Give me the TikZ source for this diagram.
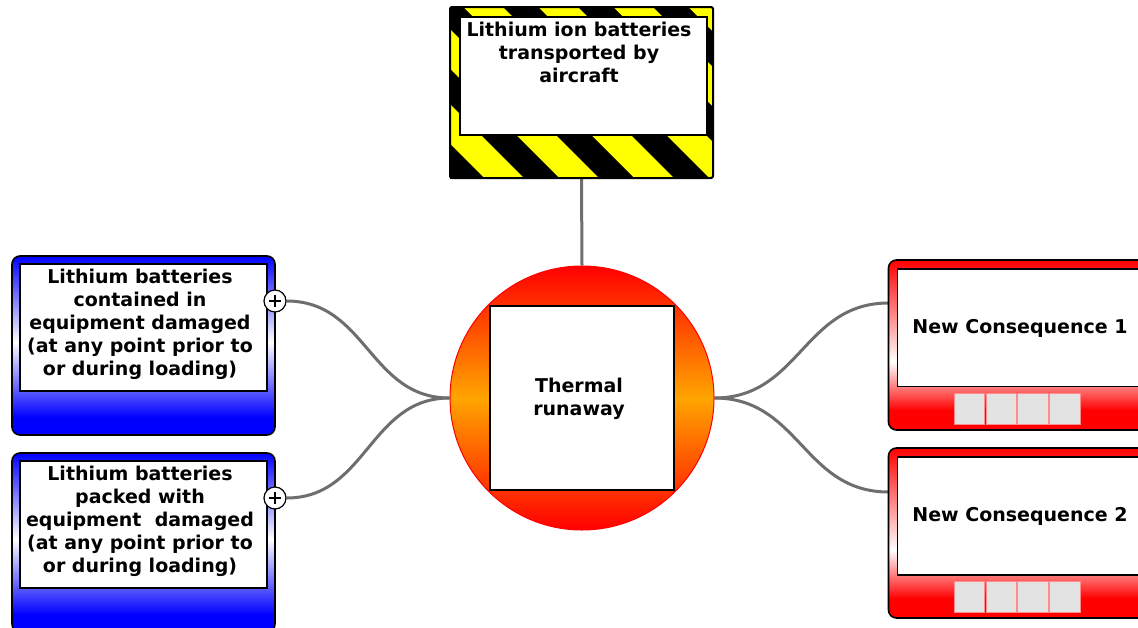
\documentclass[tikz,border=0pt]{standalone}
\usepackage{fontspec}
\setmainfont{DejaVu Sans}
\usetikzlibrary{calc}
\pgfdeclarelayer{bg}
\pgfsetlayers{bg,main}
\definecolor{linkgray}{HTML}{6E6E6E}
\definecolor{cellgray}{HTML}{E3E3E3}
\definecolor{cellborder}{HTML}{FF8C8C}
\definecolor{hazyellow}{HTML}{FFFF00}
\definecolor{midorange}{HTML}{FFA500}
% #1 x1, #2 y1 (top), #3 x2, #4 y2 (bottom), #5 colour, #6 offset of white, #7 offset of full colour
\newcommand{\gradpanel}[7]{%
  \begin{scope}
    \clip[rounded corners=8pt] (#1,#2) rectangle (#3,#4);
    \fill[top color=#5, bottom color=white] (#1,#2) rectangle (#3,#2+#6+0.5);
    \fill[top color=white, bottom color=#5] (#1,#2+#6) rectangle (#3,#2+#7+0.5);
    \fill[#5] (#1,#2+#7) rectangle (#3,#4);
  \end{scope}}
\begin{document}
\begin{tikzpicture}[x=1pt,y=-1pt,
  lbl/.style={font=\bfseries\fontsize{19}{23}\selectfont, align=center, inner sep=0pt, text=black},
  conn/.style={draw=linkgray, line width=3pt},
  panel/.style={draw=black, line width=1.6pt, rounded corners=8pt, inner sep=0pt},
  whitebox/.style={draw=black, line width=1.4pt, fill=white, inner sep=0pt},
  plusnode/.style={circle, draw=black, line width=1.2pt, fill=white, minimum size=22pt, inner sep=0pt},
  cell/.style={fill=cellgray, draw=cellborder, line width=0.6pt, minimum width=30.5pt, minimum height=30.5pt, inner sep=0pt}
]
\useasboundingbox (0,0) rectangle (1138,627);

% ---- hazard box (top) ----
\fill[hazyellow] (450,7) rectangle (713,178);
\begin{scope}
  \clip (450,7) rectangle (713,178);
  \foreach \k in {-4,...,3}{
    \pgfmathsetmacro{\ca}{496+75*\k}
    \pgfmathsetmacro{\cb}{\ca+35}
    \fill[black] (\ca,0) -- (\cb,0) -- (\cb+190,190) -- (\ca+190,190) -- cycle;
  }
\end{scope}
\node[draw=black, line width=2pt, rounded corners=2pt, minimum width=263pt, minimum height=171pt, inner sep=0pt] (hz) at (581.5,92.5) {};
\node[whitebox, minimum width=247pt, minimum height=118pt] (hzin) at (583.5,76) {};
\node[lbl] (hzt) at (579,52) {Lithium ion batteries\\transported by\\aircraft};

% ---- central circle ----
\node[circle, draw=red, line width=1pt, top color=red, bottom color=red, middle color=midorange, minimum size=264pt, inner sep=0pt] (circ) at (582,398) {};
\node[whitebox, minimum width=184pt, minimum height=184pt] (circin) at (582,398) {};
\node[lbl] (circt) at (579,399) {Thermal\\runaway};

% ---- left threat boxes ----
\gradpanel{12}{256}{275}{435}{blue}{86}{161}
\node[panel, minimum width=263pt, minimum height=179pt] (c1) at (143.5,345.5) {};
\node[whitebox, minimum width=247pt, minimum height=127pt] (c1in) at (143.5,327.5) {};
\node[lbl] (c1t) at (140,324.5) {Lithium batteries\\contained in\\equipment damaged\\(at any point prior to\\or during loading)};
\node[plusnode] (p1) at (275,301) {};
\draw[line width=1.2pt] ($(p1)+(-6,0)$) -- ($(p1)+(6,0)$) ($(p1)+(0,-6)$) -- ($(p1)+(0,6)$);

\gradpanel{12}{453}{275}{632}{blue}{86}{161}
\node[panel, minimum width=263pt, minimum height=179pt] (c2) at (143.5,542.5) {};
\node[whitebox, minimum width=247pt, minimum height=127pt] (c2in) at (143.5,524.5) {};
\node[lbl] (c2t) at (140,521.5) {Lithium batteries\\packed with\\equipment\ \ damaged\\(at any point prior to\\or during loading)};
\node[plusnode] (p2) at (275,498) {};
\draw[line width=1.2pt] ($(p2)+(-6,0)$) -- ($(p2)+(6,0)$) ($(p2)+(0,-6)$) -- ($(p2)+(0,6)$);

% ---- right consequence boxes (continue past the right edge) ----
\gradpanel{888.5}{260}{1170}{430}{red}{102}{150}
\node[panel, minimum width=281.5pt, minimum height=170pt] (r1) at (1029.25,345) {};
\node[whitebox, minimum width=263.5pt, minimum height=117.5pt] (r1in) at (1029.25,327.75) {};
\node[lbl] (r1t) at (1020,328) {New Consequence 1};
\foreach \i in {0,1,2,3}{
  \node[cell] (r1c\i) at (969.5+31.7*\i,408.7) {};
}
\coordinate (r1p) at (888.5,303);

\gradpanel{888.5}{448}{1170}{618}{red}{102}{150}
\node[panel, minimum width=281.5pt, minimum height=170pt] (r2) at (1029.25,533) {};
\node[whitebox, minimum width=263.5pt, minimum height=118pt] (r2in) at (1029.25,516) {};
\node[lbl] (r2t) at (1020,516) {New Consequence 2};
\foreach \i in {0,1,2,3}{
  \node[cell] (r2c\i) at (969.5+31.7*\i,597) {};
}
\coordinate (r2p) at (888.5,492);

% ---- connectors ----
\begin{pgfonlayer}{bg}
  \draw[conn] (hz.south) -- (circ.north);
  \draw[conn] (p1.east) .. controls +(80,0) and +(-80,0) .. (circ.west);
  \draw[conn] (p2.east) .. controls +(80,0) and +(-80,0) .. (circ.west);
  \draw[conn] (circ.east) .. controls +(85,0) and +(-85,0) .. (r1p);
  \draw[conn] (circ.east) .. controls +(85,0) and +(-85,0) .. (r2p);
\end{pgfonlayer}
\end{tikzpicture}
\end{document}
